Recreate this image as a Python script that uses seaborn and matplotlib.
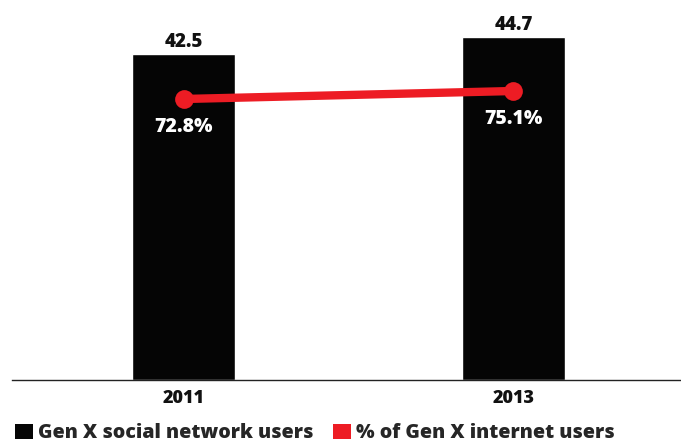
import matplotlib
matplotlib.use("Agg")
import matplotlib.pyplot as plt
from matplotlib.patches import Patch
import seaborn as sns
import pandas as pd

years = ["2011", "2013"]
social_users = [42.5, 44.7]          # millions
pct_internet = [72.8, 75.1]          # % of Gen X internet users
value_labels = ["42.5", "44.7"]
pct_labels = ["72.8%", "75.1%"]
legend_labels = ["Gen X social network users", "% of Gen X internet users"]

BAR = "#050505"
RED = "#ED1C24"

sns.set_theme(style="white")
plt.rcParams["font.family"] = ["Open Sans", "DejaVu Sans"]

df = pd.DataFrame({"year": years, "users": social_users, "pct": pct_internet})

fig = plt.figure(figsize=(6.81, 4.43), dpi=100)
ax = fig.add_axes([12 / 681, 63 / 443, 669 / 681, 380 / 443])

sns.barplot(data=df, x="year", y="users", color=BAR, width=0.312,
            saturation=1, ax=ax)
ax.set_xlim(-0.52, 1.508)
ax.set_ylim(0, 49.55)
ax.set_xlabel("")
ax.set_ylabel("")
ax.set_yticks([])
for s in ["top", "right", "left"]:
    ax.spines[s].set_visible(False)
ax.spines["bottom"].set_color("#222222")
ax.spines["bottom"].set_linewidth(1.0)
ax.tick_params(axis="x", length=0, pad=7)
for t in ax.get_xticklabels():
    t.set_fontsize(13)
    t.set_fontweight(800)
    t.set_color("#111111")

for i, (v, lab) in enumerate(zip(social_users, value_labels)):
    ax.annotate(lab, (i, v), xytext=(0, 1.5), textcoords="offset points",
                ha="center", va="bottom", fontsize=13.5, fontweight=800,
                color="#111111")

ax2 = ax.twinx()
sns.lineplot(x=[0, 1], y=pct_internet, ax=ax2, color=RED, linewidth=6,
             marker="o", markersize=13.5, markeredgewidth=0, legend=False)
ax2.set_ylim(-7.95, 101.25)
ax2.set_yticks([])
ax2.set_ylabel("")
for s in ["top", "right", "left", "bottom"]:
    ax2.spines[s].set_visible(False)

for i, (v, lab) in enumerate(zip(pct_internet, pct_labels)):
    ax2.annotate(lab, (i, v), xytext=(0, -13), textcoords="offset points",
                 ha="center", va="top", fontsize=14, fontweight=800,
                 color="white")

handles = [Patch(facecolor=BAR, edgecolor="none"),
           Patch(facecolor=RED, edgecolor="none")]
fig.legend(handles, legend_labels, loc="lower left",
           bbox_to_anchor=(15 / 681, 0.0), ncol=2, frameon=False,
           prop={"weight": 800, "size": 14.1},
           handlelength=0.92, handleheight=0.82, handletextpad=0.25,
           columnspacing=1.0, borderaxespad=0, borderpad=0)

fig.savefig("out.png", dpi=100)
